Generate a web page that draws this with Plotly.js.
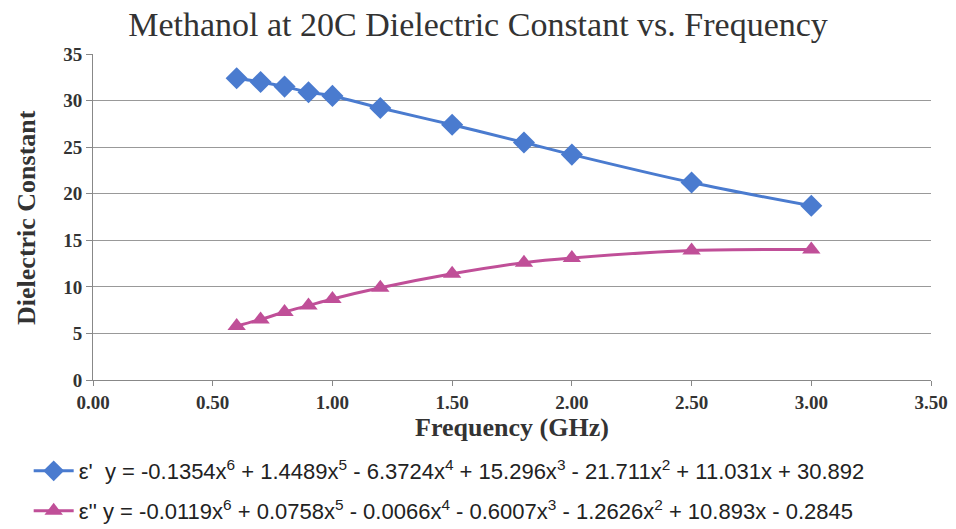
<!DOCTYPE html>
<html><head><meta charset="utf-8">
<script src="https://cdn.plot.ly/plotly-3.0.1.min.js"></script>
<style>html,body{margin:0;padding:0;background:#fff;}#chart{width:956px;height:529px;}</style>
</head><body><div id="chart"></div>
<script>
const freq = [0.6, 0.7, 0.8, 0.9, 1.0, 1.2, 1.5, 1.8, 2.0, 2.5, 3.0];
const epsReal = [32.4, 32.0, 31.5, 30.9, 30.5, 29.2, 27.4, 25.5, 24.2, 21.2, 18.7];
const epsImag = [5.8, 6.5, 7.3, 8.0, 8.7, 9.9, 11.4, 12.6, 13.1, 13.9, 14.0];
const nameReal = "ε'  y = -0.1354x<sup>6</sup> + 1.4489x<sup>5</sup> - 6.3724x<sup>4</sup> + 15.296x<sup>3</sup> - 21.711x<sup>2</sup> + 11.031x + 30.892";
const nameImag = "ε'' y = -0.0119x<sup>6</sup> + 0.0758x<sup>5</sup> - 0.0066x<sup>4</sup> - 0.6007x<sup>3</sup> - 1.2626x<sup>2</sup> + 10.893x - 0.2845";
const xTicks = [0, 0.5, 1, 1.5, 2, 2.5, 3, 3.5];
const yTicks = [0, 5, 10, 15, 20, 25, 30, 35];
const yTitle = 'Dielectric Constant';

const blue = '#4a7bcf', pink = '#c04f98';
const traces = [
  {x: freq, y: epsReal, name: nameReal, type: 'scatter', mode: 'lines+markers',
   line: {color: blue, width: 3, shape: 'spline'},
   marker: {symbol: 'diamond', size: 17, color: blue}, legend: 'legend'},
  {x: freq, y: epsImag, name: nameImag, type: 'scatter', mode: 'lines+markers',
   line: {color: pink, width: 3, shape: 'spline'},
   marker: {symbol: 'triangle-up', size: 16, color: pink}, legend: 'legend2'}
];
const serif = 'Liberation Serif, Times New Roman, serif';
const sans = 'Liberation Sans, Arial, sans-serif';
const layout = {
  width: 956, height: 529,
  margin: {l: 93, r: 25, t: 54, b: 149, autoexpand: false},
  paper_bgcolor: '#fff', plot_bgcolor: '#fff',
  font: {family: serif, color: '#222'},
  title: {text: 'Methanol at 20C Dielectric Constant vs. Frequency', font: {family: serif, size: 34, color: '#333'},
          x: 0.5, xanchor: 'center', y: 0.955, yanchor: 'middle'},
  xaxis: {range: [0, 3.5], tickvals: xTicks, tickformat: '.2f', showgrid: false, zeroline: false,
          showline: true, linecolor: '#888', linewidth: 1, ticks: 'outside', ticklen: 5, tickcolor: '#888',
          tickfont: {family: serif, size: 19, color: '#333', weight: 'bold'},
          title: {text: '<b>Frequency (GHz)</b>', font: {family: serif, size: 26, color: '#333'}, standoff: 4}},
  yaxis: {range: [0, 35], tickvals: yTicks, showgrid: true, gridcolor: '#999', gridwidth: 1, zeroline: false,
          showline: true, linecolor: '#888', linewidth: 1, ticks: 'outside', ticklen: 6, tickcolor: '#888',
          tickfont: {family: serif, size: 19, color: '#333', weight: 'bold'}},
  annotations: [{text: '<b>' + yTitle + '</b>', xref: 'paper', yref: 'paper', x: -0.08, y: 0.5,
                 xanchor: 'center', yanchor: 'middle', textangle: -90, showarrow: false,
                 font: {family: serif, size: 26, color: '#333'}}],
  legend: {xref: 'container', yref: 'container', x: 0.03, y: 1 - 450/529, xanchor: 'left', yanchor: 'top',
           font: {family: sans, size: 22, color: '#222'}, bgcolor: 'rgba(0,0,0,0)', itemwidth: 40},
  legend2: {xref: 'container', yref: 'container', x: 0.03, y: 1 - 490/529, xanchor: 'left', yanchor: 'top',
           font: {family: sans, size: 22, color: '#222'}, bgcolor: 'rgba(0,0,0,0)', itemwidth: 40},
  showlegend: true
};
Plotly.newPlot('chart', traces, layout, {displayModeBar: false});
</script></body></html>
